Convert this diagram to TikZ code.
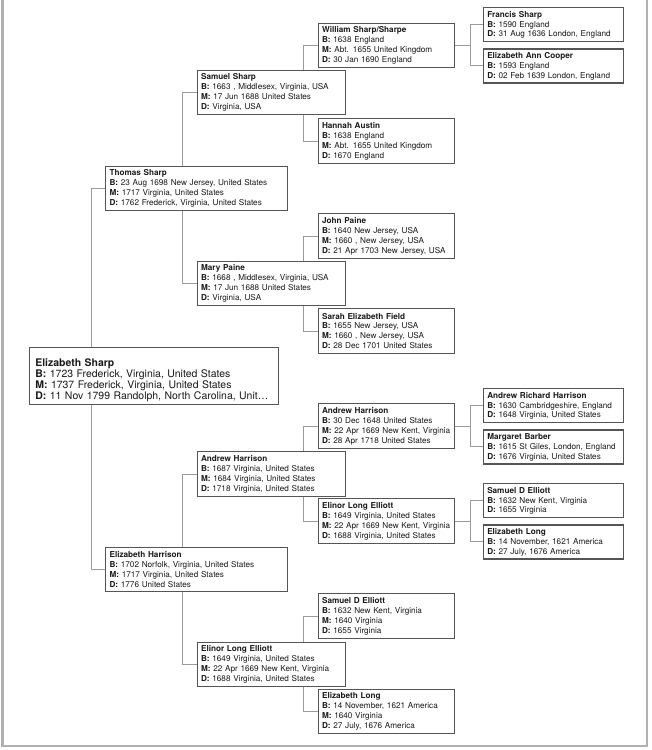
\documentclass[tikz,border=0pt]{standalone}
\usepackage{fontspec}
\setmainfont{TeX Gyre Heros}
\usetikzlibrary{positioning}
\definecolor{boxline}{HTML}{555555}
\definecolor{linkgray}{HTML}{9A9A9A}
\definecolor{framegray}{HTML}{B0B0B0}
\definecolor{inkgray}{HTML}{1A1A1A}

\begin{document}
\begin{tikzpicture}[x=1bp, y=1bp,
    person/.style={draw=boxline, fill=white, line width=1.1bp, anchor=north west, align=left,
        inner xsep=4bp, inner ysep=1bp, text=inkgray, font=\fontsize{8.2}{10}\selectfont},
    rootbox/.style={person, inner xsep=5.5bp, text width=237.4bp, minimum height=57bp,
        font=\fontsize{10.5}{11.2}\selectfont},
    parentbox/.style={person, text width=173.7bp, minimum height=44.3bp},
    grandbox/.style={person, text width=140bp, minimum height=44.3bp},
    greatbox/.style={person, text width=128.5bp, minimum height=44.3bp},
    leafbox/.style={person, text width=132.6bp, minimum height=34bp},
    link/.style={draw=linkgray, line width=1bp},
    frame/.style={draw=framegray, line width=2bp} ]

    \useasboundingbox (0,0) rectangle (652,-750);
    \draw[frame] (2.5,10) -- (2.5,-746) -- (646.5,-746) -- (646.5,10);

    %Nodes
    \node[rootbox] (esharp) at (29.3,-347.3) {\rule{0pt}{16bp}\textbf{Elizabeth Sharp}\\
        \textbf{B:} 1723 Frederick, Virginia, United States\\
        \textbf{M:} 1737 Frederick, Virginia, United States\\
        \textbf{D:} 11 Nov 1799 Randolph, North Carolina, Unit…};

    \node[parentbox] (thomas) at (105,-165.7) {\textbf{Thomas Sharp}\\
        \textbf{B:} 23 Aug 1698 New Jersey, United States\\
        \textbf{M:} 1717 Virginia, United States\\
        \textbf{D:} 1762 Frederick, Virginia, United States};
    \node[parentbox] (eharrison) at (105,-546.7) {\textbf{Elizabeth Harrison}\\
        \textbf{B:} 1702 Norfolk, Virginia, United States\\
        \textbf{M:} 1717 Virginia, United States\\
        \textbf{D:} 1776 United States};

    \node[grandbox] (samuel) at (196.5,-70) {\textbf{Samuel Sharp}\\
        \textbf{B:} 1663 , Middlesex, Virginia, USA\\
        \textbf{M:} 17 Jun 1688 United States\\
        \textbf{D:} Virginia, USA};
    \node[grandbox] (mary) at (196.5,-261) {\textbf{Mary Paine}\\
        \textbf{B:} 1668 , Middlesex, Virginia, USA\\
        \textbf{M:} 17 Jun 1688 United States\\
        \textbf{D:} Virginia, USA};
    \node[grandbox] (andrew_two) at (196.5,-451.3) {\textbf{Andrew Harrison}\\
        \textbf{B:} 1687 Virginia, United States\\
        \textbf{M:} 1684 Virginia, United States\\
        \textbf{D:} 1718 Virginia, United States};
    \node[grandbox] (elinor_two) at (196.5,-641.7) {\textbf{Elinor Long Elliott}\\
        \textbf{B:} 1649 Virginia, United States\\
        \textbf{M:} 22 Apr 1669 New Kent, Virginia\\
        \textbf{D:} 1688 Virginia, United States};

    \node[greatbox] (william) at (317.5,-22.7) {\textbf{William Sharp/Sharpe}\\
        \textbf{B:} 1638 England\\
        \textbf{M:} Abt. 1655 United Kingdom\\
        \textbf{D:} 30 Jan 1690 England};
    \node[greatbox] (hannah) at (317.5,-118.3) {\textbf{Hannah Austin}\\
        \textbf{B:} 1638 England\\
        \textbf{M:} Abt. 1655 United Kingdom\\
        \textbf{D:} 1670 England};
    \node[greatbox] (john) at (317.5,-213.3) {\textbf{John Paine}\\
        \textbf{B:} 1640 New Jersey, USA\\
        \textbf{M:} 1660 , New Jersey, USA\\
        \textbf{D:} 21 Apr 1703 New Jersey, USA};
    \node[greatbox] (sarah) at (317.5,-308.3) {\textbf{Sarah Elizabeth Field}\\
        \textbf{B:} 1655 New Jersey, USA\\
        \textbf{M:} 1660 , New Jersey, USA\\
        \textbf{D:} 28 Dec 1701 United States};
    \node[greatbox] (andrew_three) at (317.5,-403.3) {\textbf{Andrew Harrison}\\
        \textbf{B:} 30 Dec 1648 United States\\
        \textbf{M:} 22 Apr 1669 New Kent, Virginia\\
        \textbf{D:} 28 Apr 1718 United States};
    \node[greatbox] (elinor_three) at (317.5,-498.3) {\textbf{Elinor Long Elliott}\\
        \textbf{B:} 1649 Virginia, United States\\
        \textbf{M:} 22 Apr 1669 New Kent, Virginia\\
        \textbf{D:} 1688 Virginia, United States};
    \node[greatbox] (samuel_three) at (317.5,-593.3) {\textbf{Samuel D Elliott}\\
        \textbf{B:} 1632 New Kent, Virginia\\
        \textbf{M:} 1640 Virginia\\
        \textbf{D:} 1655 Virginia};
    \node[greatbox] (elizabeth_three) at (317.5,-689) {\textbf{Elizabeth Long}\\
        \textbf{B:} 14 November, 1621 America\\
        \textbf{M:} 1640 Virginia\\
        \textbf{D:} 27 July, 1676 America};

    \node[leafbox] (francis) at (482.7,-7.3) {\textbf{Francis Sharp}\\
        \textbf{B:} 1590 England\\
        \textbf{D:} 31 Aug 1636 London, England};
    \node[leafbox] (cooper) [below=6bp of francis] {\textbf{Elizabeth Ann Cooper}\\
        \textbf{B:} 1593 England\\
        \textbf{D:} 02 Feb 1639 London, England};
    \node[leafbox] (richard) at (482.7,-388.3) {\textbf{Andrew Richard Harrison}\\
        \textbf{B:} 1630 Cambridgeshire, England\\
        \textbf{D:} 1648 Virginia, United States};
    \node[leafbox] (margaret) [below=6bp of richard] {\textbf{Margaret Barber}\\
        \textbf{B:} 1615 St Giles, London, England\\
        \textbf{D:} 1676 Virginia, United States};
    \node[leafbox] (samuel_four) at (482.7,-483.3) {\textbf{Samuel D Elliott}\\
        \textbf{B:} 1632 New Kent, Virginia\\
        \textbf{D:} 1655 Virginia};
    \node[leafbox] (elizabeth_four) [below=6bp of samuel_four] {\textbf{Elizabeth Long}\\
        \textbf{B:} 14 November, 1621 America\\
        \textbf{D:} 27 July, 1676 America};

    %Lines
    \draw[link] (thomas.west) -| ([xshift=-14bp]thomas.west |- esharp.north);
    \draw[link] (eharrison.west) -| ([xshift=-14bp]eharrison.west |- esharp.south);
    \draw[link] (samuel.west) -| ([xshift=-14bp]samuel.west |- thomas.north);
    \draw[link] (mary.west) -| ([xshift=-14bp]mary.west |- thomas.south);
    \draw[link] (andrew_two.west) -| ([xshift=-14bp]andrew_two.west |- eharrison.north);
    \draw[link] (elinor_two.west) -| ([xshift=-14bp]elinor_two.west |- eharrison.south);
    \draw[link] (william.west) -| ([xshift=-14bp]william.west |- samuel.north);
    \draw[link] (hannah.west) -| ([xshift=-14bp]hannah.west |- samuel.south);
    \draw[link] (john.west) -| ([xshift=-14bp]john.west |- mary.north);
    \draw[link] (sarah.west) -| ([xshift=-14bp]sarah.west |- mary.south);
    \draw[link] (andrew_three.west) -| ([xshift=-14bp]andrew_three.west |- andrew_two.north);
    \draw[link] (elinor_three.west) -| ([xshift=-14bp]elinor_three.west |- andrew_two.south);
    \draw[link] (samuel_three.west) -| ([xshift=-14bp]samuel_three.west |- elinor_two.north);
    \draw[link] (elizabeth_three.west) -| ([xshift=-14bp]elizabeth_three.west |- elinor_two.south);
    \draw[link] (william.east) -- ([xshift=15bp]william.east);
    \draw[link] (francis.west) -| ([xshift=15bp]william.east) |- (cooper.west);
    \draw[link] (andrew_three.east) -- ([xshift=15bp]andrew_three.east);
    \draw[link] (richard.west) -| ([xshift=15bp]andrew_three.east) |- (margaret.west);
    \draw[link] (elinor_three.east) -- ([xshift=15bp]elinor_three.east);
    \draw[link] (samuel_four.west) -| ([xshift=15bp]elinor_three.east) |- (elizabeth_four.west);
\end{tikzpicture}
\end{document}
